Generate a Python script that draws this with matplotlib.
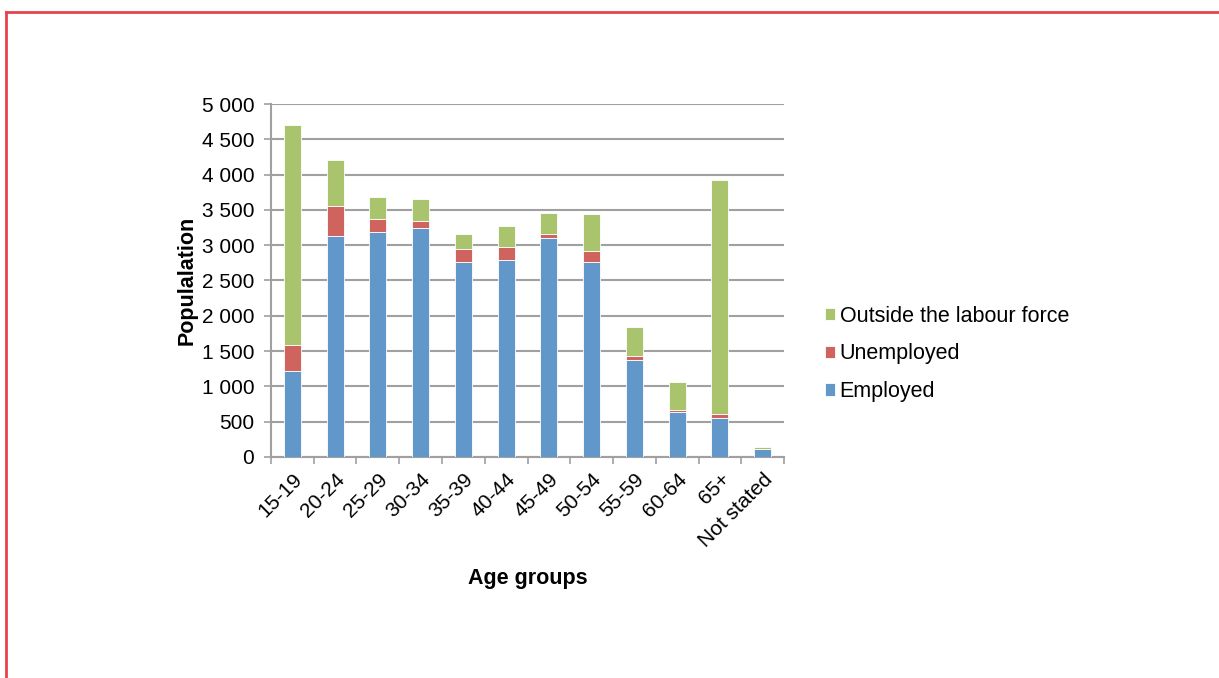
import matplotlib.pyplot as plt
import matplotlib.ticker as mticker
from matplotlib.lines import Line2D
import numpy as np

plt.rcParams['font.family'] = ['Liberation Sans', 'DejaVu Sans']

# 数据
age_groups = ['15-19', '20-24', '25-29', '30-34', '35-39', '40-44',
              '45-49', '50-54', '55-59', '60-64', '65+', 'Not stated']
employed = [1224, 3131, 3188, 3250, 2761, 2789, 3103, 2761, 1376, 636, 546, 109]
unemployed = [365, 422, 185, 90, 180, 181, 52, 152, 57, 28, 61, 5]
outside = [3108, 650, 308, 308, 219, 308, 308, 522, 403, 399, 3321, 33]

c_emp = '#6197c9'
c_unemp = '#cf645e'
c_out = '#aac46d'

fig = plt.figure(figsize=(12.19, 6.78), dpi=100)
ax = fig.add_axes([0.2223, 0.326, 0.4209, 0.5206])

x = np.arange(len(age_groups))
emp = np.array(employed)
une = np.array(unemployed)
out = np.array(outside)

b1 = ax.bar(x, emp, width=0.4, color=c_emp, edgecolor='white', linewidth=0.6, zorder=3, label='Employed')
b2 = ax.bar(x, une, width=0.4, bottom=emp, color=c_unemp, edgecolor='white', linewidth=0.6, zorder=3, label='Unemployed')
b3 = ax.bar(x, out, width=0.4, bottom=emp + une, color=c_out, edgecolor='white', linewidth=0.6, zorder=3, label='Outside the labour force')

ax.set_xlim(-0.5, len(age_groups) - 0.5)
ax.set_ylim(0, 5000)
ax.yaxis.set_major_locator(mticker.MultipleLocator(500))
ax.yaxis.set_major_formatter(mticker.FuncFormatter(lambda v, p: f'{int(v):,}'.replace(',', ' ')))
ax.grid(axis='y', color='#a0a0a0', linewidth=1.5, zorder=0)

for s in ['top', 'right']:
    ax.spines[s].set_visible(False)
ax.spines['left'].set_color('#a0a0a0')
ax.spines['bottom'].set_color('#a0a0a0')
ax.spines['left'].set_linewidth(1.5)
ax.spines['bottom'].set_linewidth(1.5)

# x 轴刻度放在类别之间
ax.set_xticks(x)
ax.set_xticklabels(age_groups, rotation=45, ha='right', rotation_mode='anchor', fontsize=15)
ax.tick_params(axis='x', length=0, pad=9)
ax.set_xticks(np.arange(-0.5, len(age_groups)), minor=True)
ax.tick_params(axis='x', which='minor', length=5, color='#a0a0a0', width=1.2)
ax.tick_params(axis='y', length=5, color='#a0a0a0', width=1.2, labelsize=15, pad=7)

ax.set_ylabel('Populalation', fontsize=15.5, fontweight='bold', labelpad=3)
ax.set_xlabel('Age groups', fontsize=15.5, fontweight='bold', labelpad=13)

fig.legend(handles=[b3, b2, b1], loc='center left', bbox_to_anchor=(0.6605, 0.478),
           frameon=False, fontsize=15.5, handlelength=0.5, handleheight=0.5,
           handletextpad=0.2, labelspacing=0.78)

# 红色边框
fig.add_artist(Line2D([6 / 1219, 1], [1 - 12 / 678, 1 - 12 / 678], color='#e6434b', linewidth=2))
fig.add_artist(Line2D([6 / 1219, 6 / 1219], [0, 1 - 12 / 678], color='#e6434b', linewidth=2))

plt.savefig('out.png', dpi=100)
plt.close()
